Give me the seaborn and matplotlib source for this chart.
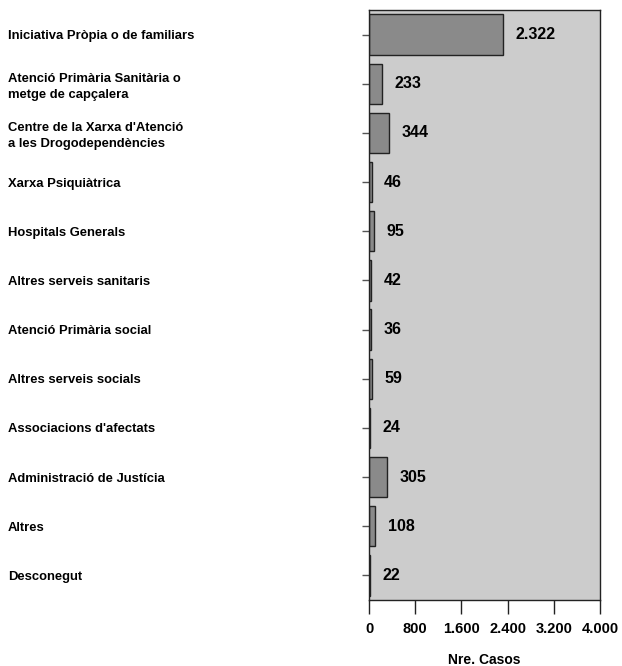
import pandas as pd
import seaborn as sns
import matplotlib.pyplot as plt
from matplotlib.ticker import FuncFormatter

categories = [
    "Iniciativa Pròpia o de familiars",
    "Atenció Primària Sanitària o\nmetge de capçalera",
    "Centre de la Xarxa d'Atenció\na les Drogodependències",
    "Xarxa Psiquiàtrica",
    "Hospitals Generals",
    "Altres serveis sanitaris",
    "Atenció Primària social",
    "Altres serveis socials",
    "Associacions d'afectats",
    "Administració de Justícia",
    "Altres",
    "Desconegut",
]
casos = [2322, 233, 344, 46, 95, 42, 36, 59, 24, 305, 108, 22]
x_ticks = [0, 800, 1600, 2400, 3200, 4000]


def fmt_miles(v, pos=None):
    return f"{int(v):,}".replace(",", ".")


df = pd.DataFrame({"origen": categories, "casos": casos})

sns.set_style("white")
plt.rcParams["font.family"] = ["Liberation Sans", "DejaVu Sans"]
plt.rcParams["font.weight"] = "bold"
plt.rcParams["text.color"] = "black"
plt.rcParams["axes.labelcolor"] = "black"
plt.rcParams["xtick.color"] = "black"
plt.rcParams["ytick.color"] = "black"

fig = plt.figure(figsize=(6.22, 6.66), dpi=100)
ax = fig.add_axes([369 / 622, 66 / 666, 231 / 622, 590 / 666])
ax.set_facecolor("#cccccc")

sns.barplot(data=df, y="origen", x="casos", orient="h", color="#8a8a8a",
            saturation=1, edgecolor="#222222", linewidth=1, width=0.82, ax=ax)

ax.set_xlim(0, 4000)
ax.set_xticks(x_ticks)
ax.xaxis.set_major_formatter(FuncFormatter(fmt_miles))
ax.set_xlabel("Nre. Casos", fontsize=10, fontweight="bold", labelpad=12)
ax.set_ylabel("")

for s in ax.spines.values():
    s.set_color("#222222")
    s.set_linewidth(1)

ax.tick_params(axis="x", bottom=True, direction="out", length=10, width=1,
               color="#222222", labelsize=10.5, pad=6)
# y labels left aligned near the figure edge
ax.tick_params(axis="y", left=True, direction="out", length=5, width=1,
               color="#555555", labelsize=9.4, pad=(369 - 10 - 5) * 0.72)
for lab in ax.get_yticklabels():
    lab.set_horizontalalignment("left")
    lab.set_fontweight("bold")
    lab.set_linespacing(1.45)

for cont in ax.containers:
    ax.bar_label(cont, labels=[fmt_miles(v) for v in casos], padding=9,
                 fontsize=11.5, fontweight="bold", color="black")

fig.savefig("out.png", dpi=100)
